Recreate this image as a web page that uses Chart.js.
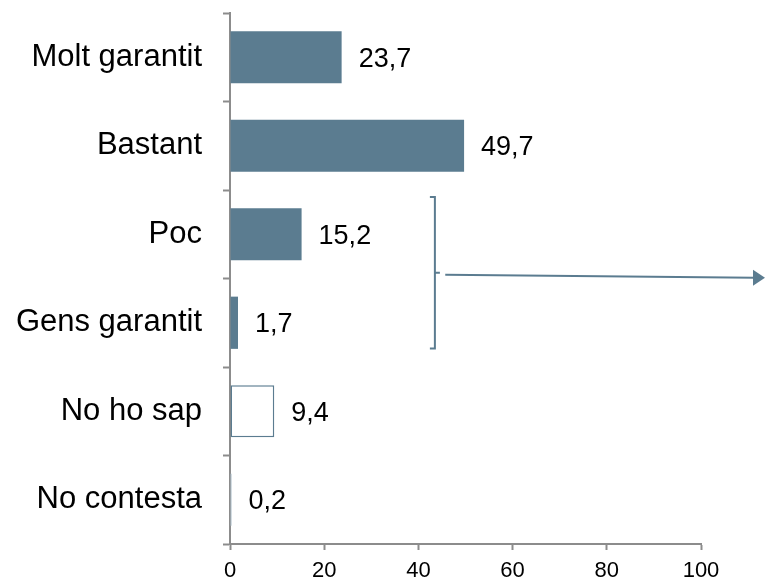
<!DOCTYPE html>
<html>
<head>
<meta charset="utf-8">
<script src="https://cdn.jsdelivr.net/npm/chart.js@4"></script>
<style>
  html, body { margin: 0; padding: 0; background: #fff; }
  #wrap { width: 765px; height: 583px; }
</style>
</head>
<body>
<div id="wrap"><canvas id="chart"></canvas></div>
<script>
"use strict";

// ? DATA
// ! ========================== ! \\
const categories = ["Molt garantit", "Bastant", "Poc", "Gens garantit", "No ho sap", "No contesta"];
const values = [23.7, 49.7, 15.2, 1.7, 9.4, 0.2];
const xTicks = [0, 20, 40, 60, 80, 100];
const bracketRows = ["Poc", "Gens garantit"];

const BLUE = "#5b7c90";
const AXIS = "#8c8c8c";
const FONT = "'Liberation Sans', Arial, sans-serif";

// ** value labels next to each bar
const valueLabels = {
  id: "valueLabels",
  afterDatasetsDraw: (chart) => {
    const { ctx } = chart;
    const meta = chart.getDatasetMeta(0);
    ctx.save();
    ctx.fillStyle = "#000";
    ctx.font = `27px ${FONT}`;
    ctx.textBaseline = "middle";
    ctx.textAlign = "left";
    meta.data.forEach((bar, i) => {
      const txt = values[i].toFixed(1).replace(".", ",");
      ctx.fillText(txt, Math.max(bar.x, bar.base) + 17, bar.y + 2);
    });
    ctx.restore();
  },
};

// ** bracket around Poc / Gens garantit + arrow to the right
const bracketArrow = {
  id: "bracketArrow",
  afterDraw: (chart) => {
    const { ctx, width } = chart;
    const xs = chart.scales.x;
    const ys = chart.scales.y;
    const i0 = categories.indexOf(bracketRows[0]);
    const i1 = categories.indexOf(bracketRows[1]);
    const step = ys.getPixelForValue(1) - ys.getPixelForValue(0);
    const bx = xs.getPixelForValue(43.5);
    const top = ys.getPixelForValue(i0) - 0.42 * step;
    const bottom = ys.getPixelForValue(i1) + 0.29 * step;
    const mid = (top + bottom) / 2;

    ctx.save();
    ctx.strokeStyle = BLUE;
    ctx.fillStyle = BLUE;
    ctx.lineWidth = 2;
    ctx.beginPath();
    ctx.moveTo(bx - 5, top);
    ctx.lineTo(bx, top);
    ctx.lineTo(bx, bottom);
    ctx.lineTo(bx - 5, bottom);
    ctx.moveTo(bx, mid);
    ctx.lineTo(bx + 5, mid);
    ctx.stroke();

    // arrow
    const ax0 = xs.getPixelForValue(45.7);
    const ay0 = mid + 2;
    const ax1 = width - 10;
    const ay1 = mid + 5;
    ctx.beginPath();
    ctx.moveTo(ax0, ay0);
    ctx.lineTo(ax1, ay1);
    ctx.stroke();
    ctx.beginPath();
    ctx.moveTo(width, ay1);
    ctx.lineTo(ax1 - 2, ay1 - 8);
    ctx.lineTo(ax1 - 2, ay1 + 8);
    ctx.closePath();
    ctx.fill();
    ctx.restore();
  },
};

const config = {
  type: "bar",
  data: {
    labels: categories,
    datasets: [
      {
        data: values,
        backgroundColor: values.map((v, i) => (i < 4 ? BLUE : i === 5 ? "#a9bcc8" : "#ffffff")),
        borderColor: BLUE,
        borderWidth: values.map((v, i) => (i < 4 || i === 5 ? 0 : 1.5)),
        borderSkipped: false,
        barPercentage: 0.59,
        categoryPercentage: 1,
        minBarLength: 1.5,
      },
    ],
  },
  options: {
    indexAxis: "y",
    responsive: true,
    maintainAspectRatio: false,
    animation: false,
    layout: { padding: { top: 13, right: 64, bottom: 0, left: 0 } },
    plugins: {
      legend: { display: false },
      tooltip: { enabled: false },
    },
    scales: {
      x: {
        min: 0,
        max: 100,
        afterBuildTicks: (scale) => {
          scale.ticks = xTicks.map((v) => ({ value: v }));
        },
        afterFit: (scale) => {
          scale.height = 39;
          scale.paddingLeft = 0;
          scale.paddingRight = 0;
        },
        grid: {
          drawOnChartArea: false,
          drawTicks: true,
          tickLength: 6,
          tickWidth: 2,
          tickColor: AXIS,
        },
        border: { display: true, color: AXIS, width: 2 },
        ticks: {
          color: "#000",
          font: { family: FONT, size: 22 },
          padding: 8,
          maxRotation: 0,
        },
      },
      y: {
        afterFit: (scale) => {
          scale.width = 230;
          scale.paddingTop = 0;
          scale.paddingBottom = 0;
        },
        grid: {
          offset: true,
          drawOnChartArea: false,
          drawTicks: true,
          tickLength: 7,
          tickWidth: 2,
          tickColor: AXIS,
        },
        border: { display: true, color: AXIS, width: 2 },
        ticks: {
          color: "#000",
          font: { family: FONT, size: 31 },
          padding: 21,
        },
      },
    },
  },
  plugins: [valueLabels, bracketArrow],
};

const ctx = document.getElementById("chart").getContext("2d");
new Chart(ctx, config);
</script>
</body>
</html>
